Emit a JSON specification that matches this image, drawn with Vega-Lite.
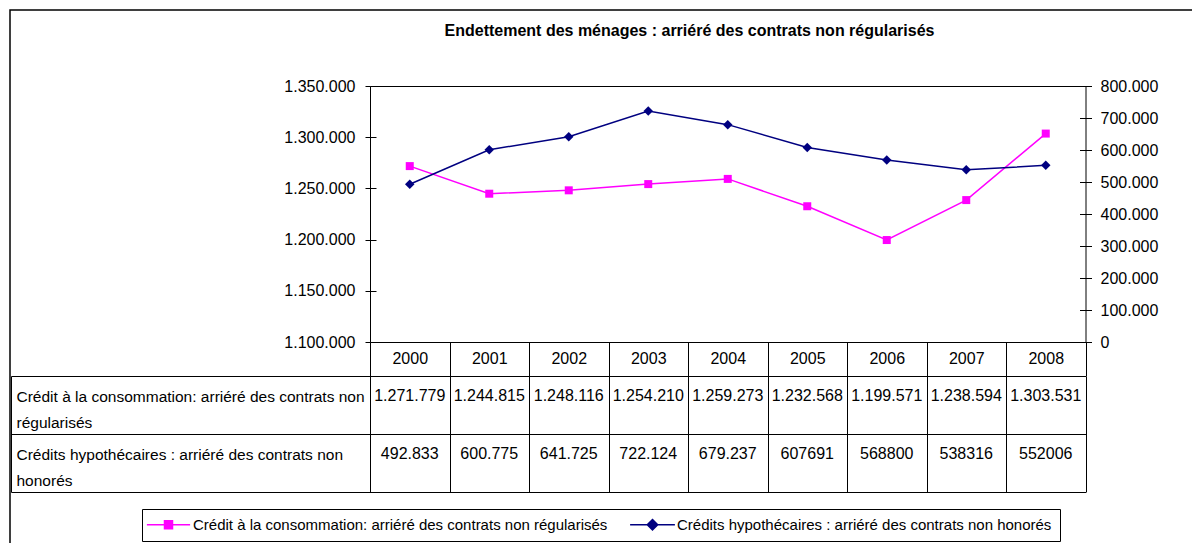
{
  "$schema": "https://vega.github.io/schema/vega-lite/v6.json",
  "width": 1183,
  "height": 534,
  "autosize": {"type": "none"},
  "padding": {"left": 10, "top": 10, "right": 0, "bottom": 0},
  "background": "white",
  "config": {
    "view": {"stroke": "#000", "strokeWidth": 1.5},
    "locale": {"number": {"decimal": ",", "thousands": ".", "grouping": [3], "currency": ["", " €"]}},
    "axis": {"domainColor": "#000", "tickColor": "#000", "labelColor": "#000", "labelFont": "Liberation Sans", "labelFontSize": 16, "grid": false, "title": null, "domainWidth": 1, "tickWidth": 1}
  },
  "title": {
    "text": "Endettement des ménages : arriéré des contrats non régularisés",
    "anchor": "middle",
    "frame": "group",
    "offset": -44,
    "baseline": "middle",
    "dx": 88,
    "font": "Liberation Sans",
    "fontSize": 16,
    "fontWeight": "bold",
    "color": "#000"
  },
  "data": {
    "values": [
      {"year": "2000", "series": "Crédit à la consommation: arriéré des contrats non régularisés", "value": 1271779, "label": "1.271.779"},
      {"year": "2001", "series": "Crédit à la consommation: arriéré des contrats non régularisés", "value": 1244815, "label": "1.244.815"},
      {"year": "2002", "series": "Crédit à la consommation: arriéré des contrats non régularisés", "value": 1248116, "label": "1.248.116"},
      {"year": "2003", "series": "Crédit à la consommation: arriéré des contrats non régularisés", "value": 1254210, "label": "1.254.210"},
      {"year": "2004", "series": "Crédit à la consommation: arriéré des contrats non régularisés", "value": 1259273, "label": "1.259.273"},
      {"year": "2005", "series": "Crédit à la consommation: arriéré des contrats non régularisés", "value": 1232568, "label": "1.232.568"},
      {"year": "2006", "series": "Crédit à la consommation: arriéré des contrats non régularisés", "value": 1199571, "label": "1.199.571"},
      {"year": "2007", "series": "Crédit à la consommation: arriéré des contrats non régularisés", "value": 1238594, "label": "1.238.594"},
      {"year": "2008", "series": "Crédit à la consommation: arriéré des contrats non régularisés", "value": 1303531, "label": "1.303.531"},
      {"year": "2000", "series": "Crédits hypothécaires : arriéré des contrats non honorés", "value": 492833, "label": "492.833"},
      {"year": "2001", "series": "Crédits hypothécaires : arriéré des contrats non honorés", "value": 600775, "label": "600.775"},
      {"year": "2002", "series": "Crédits hypothécaires : arriéré des contrats non honorés", "value": 641725, "label": "641.725"},
      {"year": "2003", "series": "Crédits hypothécaires : arriéré des contrats non honorés", "value": 722124, "label": "722.124"},
      {"year": "2004", "series": "Crédits hypothécaires : arriéré des contrats non honorés", "value": 679237, "label": "679.237"},
      {"year": "2005", "series": "Crédits hypothécaires : arriéré des contrats non honorés", "value": 607691, "label": "607691"},
      {"year": "2006", "series": "Crédits hypothécaires : arriéré des contrats non honorés", "value": 568800, "label": "568800"},
      {"year": "2007", "series": "Crédits hypothécaires : arriéré des contrats non honorés", "value": 538316, "label": "538316"},
      {"year": "2008", "series": "Crédits hypothécaires : arriéré des contrats non honorés", "value": 552006, "label": "552006"}
    ]
  },
  "layer": [
    {
      "transform": [{"filter": "datum.series == 'Crédit à la consommation: arriéré des contrats non régularisés'"}],
      "mark": {"type": "line", "strokeWidth": 1.5},
      "encoding": {
        "x": {"field": "year", "type": "ordinal",
          "scale": {"type": "band", "domain": ["2000","2001","2002","2003","2004","2005","2006","2007","2008"], "range": [360, 1075.5], "paddingInner": 0, "paddingOuter": 0},
          "axis": {"orient": "top", "offset": -76, "ticks": false, "labels": false, "domain": true}},
        "y": {"field": "value", "type": "quantitative",
          "scale": {"domain": [1100000, 1350000], "range": [332, 76], "nice": false, "zero": false},
          "axis": {"orient": "left", "offset": -360, "values": [1100000, 1150000, 1200000, 1250000, 1300000, 1350000], "format": ",d", "tickSize": 5, "labelPadding": 10}},
        "color": {"field": "series", "type": "nominal",
          "scale": {"domain": ["Crédit à la consommation: arriéré des contrats non régularisés", "Crédits hypothécaires : arriéré des contrats non honorés"], "range": ["#FF00FF", "#000080"]},
          "legend": {
            "orient": "none", "legendX": 132, "legendY": 499, "direction": "horizontal", "columns": 2, "title": null,
            "strokeColor": "#000", "fillColor": "#fff", "padding": 8,
            "symbolSize": 64, "symbolStrokeWidth": 1.5, "symbolOffset": 11,
            "labelFont": "Liberation Sans", "labelFontSize": 15, "labelColor": "#000", "labelLimit": 1000, "labelOffset": 17, "columnPadding": 19,
            "symbolType": "M-5.4,0H5.4M-1,-1H1V1H-1Z",
            "encode": {"symbols": {"update": {
              "shape": {"signal": "datum.value == 'Crédits hypothécaires : arriéré des contrats non honorés' ? 'M-5.6,0H5.6M0,-1.3L1.3,0L0,1.3L-1.3,0Z' : 'M-5.4,0H5.4M-1,-1H1V1H-1Z'"},
              "fill": {"signal": "datum.value == 'Crédits hypothécaires : arriéré des contrats non honorés' ? '#000080' : '#FF00FF'"},
              "stroke": {"signal": "datum.value == 'Crédits hypothécaires : arriéré des contrats non honorés' ? '#000080' : '#FF00FF'"},
              "opacity": {"value": 1}
            }}}
          }}
      }
    },
    {
      "transform": [{"filter": "datum.series == 'Crédit à la consommation: arriéré des contrats non régularisés'"}],
      "mark": {"type": "point", "shape": "square", "filled": true, "size": 64, "color": "#FF00FF", "opacity": 1},
      "encoding": {
        "x": {"field": "year", "type": "ordinal",
          "scale": {"type": "band", "domain": ["2000","2001","2002","2003","2004","2005","2006","2007","2008"], "range": [360, 1075.5], "paddingInner": 0, "paddingOuter": 0},
          "axis": null},
        "y": {"field": "value", "type": "quantitative",
          "scale": {"domain": [1100000, 1350000], "range": [332, 76], "nice": false, "zero": false},
          "axis": {"orient": "left", "offset": -360, "values": [1100000, 1150000, 1200000, 1250000, 1300000, 1350000], "tickSize": -6, "labels": false, "domain": false}}
      }
    },
    {
      "transform": [{"filter": "datum.series == 'Crédits hypothécaires : arriéré des contrats non honorés'"}],
      "mark": {"type": "line", "strokeWidth": 1.5},
      "encoding": {
        "x": {"field": "year", "type": "ordinal",
          "scale": {"type": "band", "domain": ["2000","2001","2002","2003","2004","2005","2006","2007","2008"], "range": [360, 1075.5], "paddingInner": 0, "paddingOuter": 0},
          "axis": {"orient": "bottom", "offset": -202, "tickBand": "extent", "tickSize": 34, "labelPadding": -18, "labelBaseline": "middle", "labelAngle": 0, "labelFontSize": 16}},
        "y": {"field": "value", "type": "quantitative",
          "scale": {"domain": [0, 800000], "range": [332, 76], "nice": false, "zero": false},
          "axis": {"orient": "right", "offset": -107.5, "values": [0, 100000, 200000, 300000, 400000, 500000, 600000, 700000, 800000], "format": ",d", "tickSize": 6, "labelPadding": 8.5}},
        "color": {"field": "series", "type": "nominal",
          "scale": {"domain": ["Crédit à la consommation: arriéré des contrats non régularisés", "Crédits hypothécaires : arriéré des contrats non honorés"], "range": ["#FF00FF", "#000080"]}}
      }
    },
    {
      "transform": [{"filter": "datum.series == 'Crédits hypothécaires : arriéré des contrats non honorés'"}],
      "mark": {"type": "point", "shape": "diamond", "filled": true, "size": 90, "color": "#000080", "opacity": 1},
      "encoding": {
        "x": {"field": "year", "type": "ordinal",
          "scale": {"type": "band", "domain": ["2000","2001","2002","2003","2004","2005","2006","2007","2008"], "range": [360, 1075.5], "paddingInner": 0, "paddingOuter": 0},
          "axis": null},
        "y": {"field": "value", "type": "quantitative",
          "scale": {"domain": [0, 800000], "range": [332, 76], "nice": false, "zero": false},
          "axis": {"orient": "right", "offset": -107.5, "values": [0, 100000, 200000, 300000, 400000, 500000, 600000, 700000, 800000], "tickSize": -6, "labels": false, "domain": false}}
      }
    },
    {
      "mark": {"type": "text", "font": "Liberation Sans", "fontSize": 16, "color": "#000", "align": "center", "baseline": "middle", "dy": 20},
      "encoding": {
        "x": {"field": "year", "type": "ordinal",
          "scale": {"type": "band", "domain": ["2000","2001","2002","2003","2004","2005","2006","2007","2008"], "range": [360, 1075.5], "paddingInner": 0, "paddingOuter": 0},
          "axis": {"orient": "bottom", "offset": -52, "tickBand": "extent", "tickSize": -116, "labels": false, "domain": true}},
        "y": {"field": "series", "type": "nominal", "bandPosition": 0,
          "scale": {"type": "band", "domain": ["Crédit à la consommation: arriéré des contrats non régularisés", "Crédits hypothécaires : arriéré des contrats non honorés"], "range": [366, 482], "paddingInner": 0, "paddingOuter": 0},
          "axis": {"orient": "left", "offset": -1, "tickBand": "extent", "tickSize": -1074.5, "domain": true,
            "labelAlign": "left", "labelBaseline": "middle", "labelPadding": 1069.5, "labelLineHeight": 26, "labelOffset": -9,
            "labelFontSize": 15.5, "labelLimit": 1000, "labelOverlap": false,
            "labelExpr": "[slice(datum.label, 0, indexof(datum.label, ' non ') + 4), slice(datum.label, indexof(datum.label, ' non ') + 5)]"}},
        "text": {"field": "label", "type": "nominal"}
      }
    }
  ],
  "resolve": {"scale": {"x": "independent", "y": "independent"}}
}
